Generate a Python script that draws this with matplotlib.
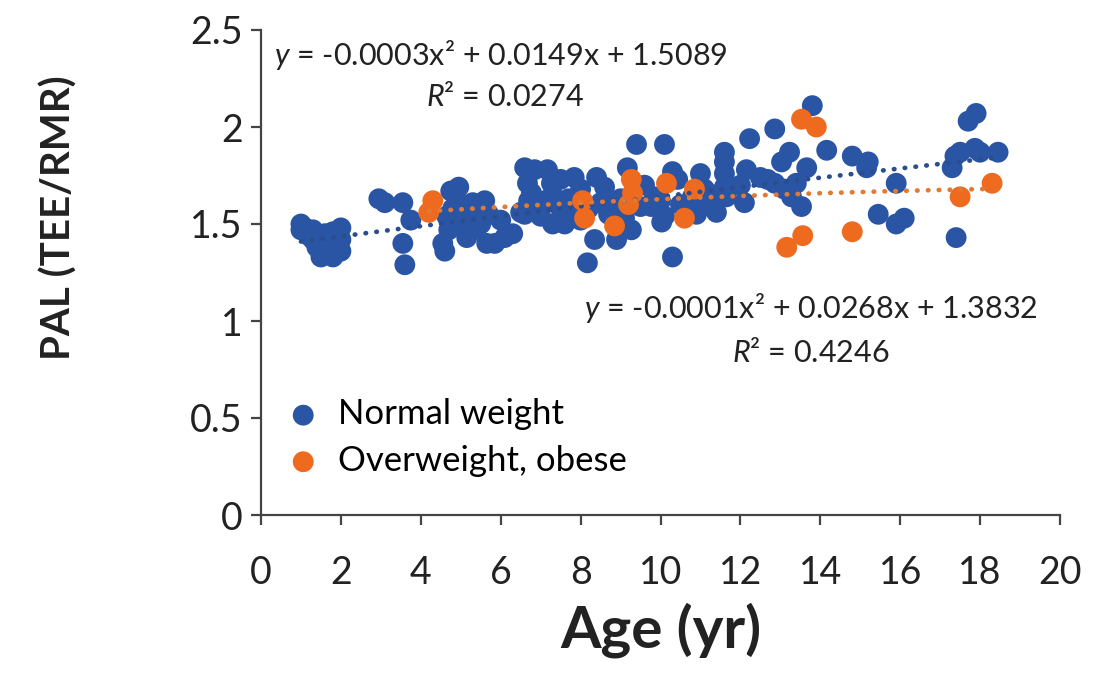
import numpy as np
import matplotlib
matplotlib.use("Agg")
import matplotlib.pyplot as plt

plt.rcParams['font.family'] = ['Lato', 'DejaVu Sans']
plt.rcParams['mathtext.fontset'] = 'custom'
plt.rcParams['mathtext.rm'] = 'Lato'
plt.rcParams['mathtext.it'] = 'Lato:italic'

# normal weight children: age (yr) and PAL
normal_age = [1.0, 1.0, 1.1, 1.2, 1.3, 1.3, 1.4, 1.5, 1.5, 1.6, 1.6, 1.7, 1.8, 1.8, 1.9, 2.0, 2.0, 2.0,
              2.95, 3.1, 3.55, 3.75, 3.55, 3.6,
              4.75, 4.65, 4.55, 4.6, 4.95, 5.1, 5.3, 5.6, 5.15, 5.65, 6.1, 6.3, 5.85, 5.3, 6.5,
              4.9, 5.0, 5.4, 5.7, 4.8, 6.0, 5.5, 4.7,
              6.6, 6.85, 6.67, 6.77, 7.0, 7.17, 7.27, 7.5, 7.84, 7.6, 8.35, 8.17, 8.4, 8.6, 8.85, 8.9,
              9.27, 9.17, 9.4, 9.5,
              6.7, 6.9, 7.1, 7.3, 7.5, 7.7, 7.9, 8.0, 8.2, 8.5, 8.7, 9.0, 9.1, 7.3, 8.0, 6.6,
              9.85, 9.77, 10.1, 10.3, 10.43, 10.1, 10.03, 11.0, 11.1, 11.18, 11.28, 10.68, 10.3,
              11.6, 11.6, 11.6, 11.6, 11.65, 12.15, 12.1, 12.23, 12.86, 12.5, 12.68, 12.86, 13.1,
              13.28, 13.53, 13.03, 13.23, 13.66, 13.4, 13.8, 14.16,
              9.6, 10.0, 10.5, 10.9, 11.3, 12.0, 10.8, 11.4,
              14.8, 15.2, 15.16, 15.9, 15.45, 15.9, 16.1, 17.3, 17.37, 17.5, 17.87, 18.0, 18.45,
              17.7, 17.9, 17.4]
normal_pal = [1.50, 1.47, 1.48, 1.44, 1.42, 1.47, 1.38, 1.35, 1.33, 1.45, 1.36, 1.40, 1.46, 1.33, 1.38, 1.42, 1.48, 1.36,
              1.63, 1.61, 1.61, 1.52, 1.40, 1.29,
              1.67, 1.54, 1.40, 1.36, 1.69, 1.56, 1.61, 1.62, 1.43, 1.40, 1.43, 1.45, 1.40, 1.47, 1.56,
              1.50, 1.60, 1.53, 1.55, 1.58, 1.52, 1.50, 1.47,
              1.79, 1.78, 1.71, 1.66, 1.54, 1.78, 1.71, 1.73, 1.74, 1.50, 1.42, 1.30, 1.74, 1.69, 1.61, 1.42,
              1.47, 1.79, 1.91, 1.59,
              1.62, 1.58, 1.62, 1.65, 1.58, 1.63, 1.57, 1.68, 1.58, 1.61, 1.55, 1.63, 1.53, 1.50, 1.52, 1.55,
              1.64, 1.59, 1.91, 1.77, 1.73, 1.54, 1.51, 1.76, 1.68, 1.61, 1.59, 1.57, 1.33,
              1.87, 1.82, 1.76, 1.69, 1.64, 1.78, 1.61, 1.94, 1.99, 1.74, 1.73, 1.71, 1.68,
              1.64, 1.59, 1.82, 1.87, 1.79, 1.71, 2.11, 1.88,
              1.70, 1.62, 1.60, 1.55, 1.65, 1.70, 1.64, 1.56,
              1.85, 1.82, 1.79, 1.71, 1.55, 1.50, 1.53, 1.79, 1.85, 1.87, 1.89, 1.87, 1.87,
              2.03, 2.07, 1.43]

# overweight / obese children
obese_age = [4.3, 4.2, 8.05, 8.1, 8.85, 9.27, 9.3, 10.15, 10.6, 10.85, 13.53, 13.9, 13.56, 13.16,
             14.8, 17.5, 18.3, 9.2]
obese_pal = [1.62, 1.56, 1.62, 1.53, 1.49, 1.73, 1.66, 1.71, 1.53, 1.68, 2.04, 2.00, 1.44, 1.38,
             1.46, 1.64, 1.71, 1.60]

# polynomial trendline coefficients (x^2, x, const)
normal_fit = [-0.0001, 0.0268, 1.3832]
obese_fit = [-0.0003, 0.0149, 1.5089]
normal_r2 = 0.4246
obese_r2 = 0.0274

blue = "#2a55a4"
orange = "#ee6a1f"
txt = "#222222"

fig = plt.figure(figsize=(11.03, 6.79), dpi=100)
ax = fig.add_axes([261 / 1103, 1 - 515 / 679, 799 / 1103, 485 / 679])

ax.scatter(normal_age, normal_pal, s=225, color=blue, edgecolors='none', label="Normal weight", zorder=2)
ax.scatter(obese_age, obese_pal, s=225, color=orange, edgecolors='none', label="Overweight, obese", zorder=3)

# dotted quadratic trendlines over each group's age range
xs = np.linspace(min(normal_age), max(normal_age), 200)
ax.plot(xs, np.polyval(normal_fit, xs), color="#2a4d8f", lw=3.4,
        linestyle=(0, (0.1, 2.2)), dash_capstyle='round', zorder=4)
xs = np.linspace(min(obese_age), max(obese_age), 200)
ax.plot(xs, np.polyval(obese_fit, xs), color="#e07a35", lw=3.4,
        linestyle=(0, (0.1, 2.2)), dash_capstyle='round', zorder=4)

ax.text(6.0, 2.37, f"$\\mathit{{y}}$ = {obese_fit[0]:.4f}x² + {obese_fit[1]:.4f}x + {obese_fit[2]:.4f}",
        ha='center', va='center', fontsize=22, color=txt)
ax.text(6.1, 2.155, f"$\\mathit{{R}}$² = {obese_r2:.4f}", ha='center', va='center', fontsize=22, color=txt)
ax.text(13.76, 1.067, f"$\\mathit{{y}}$ = {normal_fit[0]:.4f}x² + {normal_fit[1]:.4f}x + {normal_fit[2]:.4f}",
        ha='center', va='center', fontsize=22, color=txt)
ax.text(13.76, 0.84, f"$\\mathit{{R}}$² = {normal_r2:.4f}", ha='center', va='center', fontsize=22, color=txt)

ax.set_xlim(0, 20)
ax.set_ylim(0, 2.5)
ax.set_xticks(range(0, 21, 2))
ax.set_yticks([0, 0.5, 1, 1.5, 2, 2.5])
ax.set_yticklabels(["0", "0.5", "1", "1.5", "2", "2.5"])

for side in ['top', 'right']:
    ax.spines[side].set_visible(False)
for side in ['left', 'bottom']:
    ax.spines[side].set_color("#444444")
    ax.spines[side].set_linewidth(1.6)
ax.tick_params(direction='out', length=7, width=1.6, color="#444444", labelsize=27,
               labelcolor=txt)
ax.tick_params(axis='x', pad=22)
ax.tick_params(axis='y', pad=6)

ax.set_xlabel("Age (yr)", fontsize=42, fontweight='bold', color=txt)
ax.set_ylabel("PAL (TEE/RMR)", fontsize=29, fontweight='bold', color=txt)
ax.xaxis.set_label_coords(0.5, -0.18)
ax.yaxis.set_label_coords(-0.229, 0.612)

ax.legend(loc='lower left', bbox_to_anchor=(-0.008, 0.05), frameon=False, fontsize=25,
          scatterpoints=1, handletextpad=0.0, labelspacing=0.42, borderaxespad=0)

fig.savefig("out.png", dpi=100)
